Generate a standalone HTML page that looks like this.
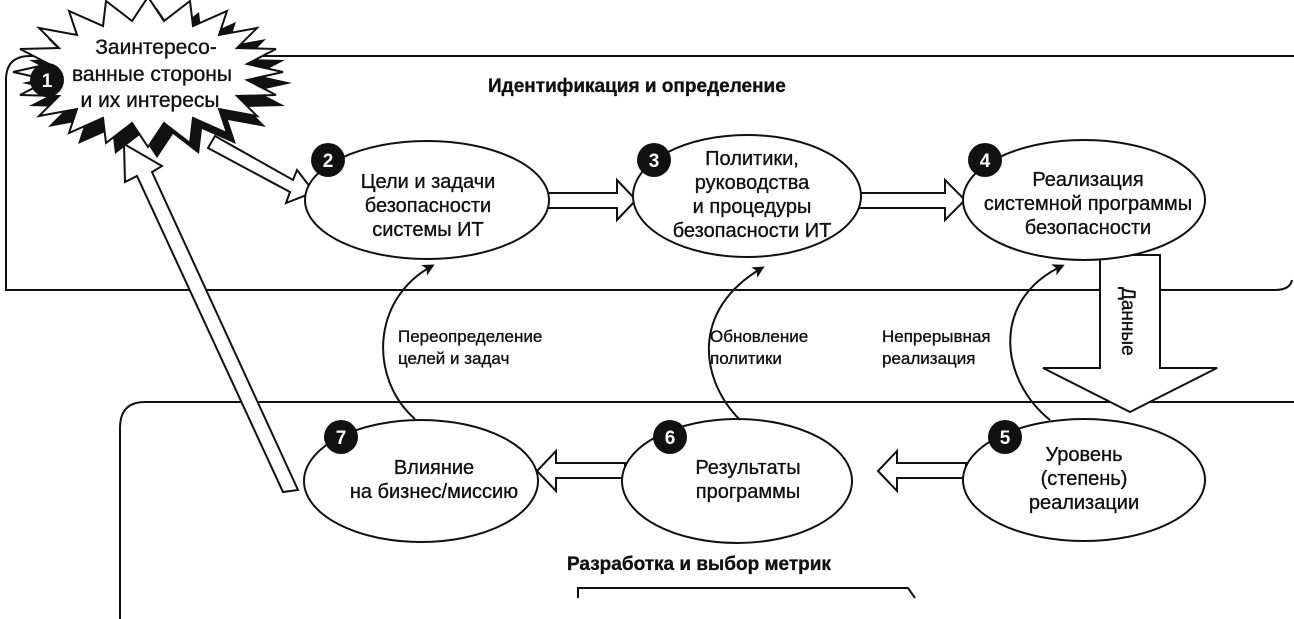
<!DOCTYPE html>
<html><head><meta charset="utf-8"><style>
html,body{margin:0;padding:0;background:#fff;}
svg{display:block;}
text{font-family:"Liberation Sans","DejaVu Sans",sans-serif;fill:#111;stroke:#111;stroke-width:0.35;}
</style></head><body>
<svg width="1294" height="619" viewBox="0 0 1294 619" xmlns="http://www.w3.org/2000/svg">
<defs>
<marker id="ah" markerWidth="12" markerHeight="12" refX="9" refY="6" orient="auto" markerUnits="userSpaceOnUse" viewBox="0 0 12 12">
<path d="M0,0 L12,6 L0,12 L3,6 Z" fill="#111"/></marker>
</defs>
<g fill="none" stroke="#111" stroke-width="2">
<path d="M1300,56 L30,56 Q6,56 6,80 L6,290 L1275,290 Q1290,290 1292,280"/>
<path d="M1300,402 L145,402 Q120,402 120,428 L120,619"/>
</g>
<g transform="translate(9,11)">
<polygon fill="#111" points="283,72 247,80 276,95 237,96 257,116 219,109 227,133 193,118 190,143 164,123 148,147 132,123 106,143 103,118 69,133 77,109 39,116 59,96 20,95 49,80 13,72 49,64 20,49 59,48 39,28 77,35 69,11 103,26 106,1 132,21 148,-3 164,21 190,1 193,26 227,11 219,35 257,28 237,48 276,49 247,64"/>
</g>
<polygon fill="#fff" stroke="#111" stroke-width="2" points="283,72 247,80 276,95 237,96 257,116 219,109 227,133 193,118 190,143 164,123 148,147 132,123 106,143 103,118 69,133 77,109 39,116 59,96 20,95 49,80 13,72 49,64 20,49 59,48 39,28 77,35 69,11 103,26 106,1 132,21 148,-3 164,21 190,1 193,26 227,11 219,35 257,28 237,48 276,49 247,64"/>
<g font-size="21" text-anchor="middle">
<text x="156" y="54">Заинтересо-</text>
<text x="152" y="81">ванные стороны</text>
<text x="150" y="107">и их интересы</text>
</g>
<g fill="#fff" stroke="#111" stroke-width="2">
<polygon points="215,136 293,180 297,170 314,192 286,203 290,192 208,148"/>
<polygon points="298,490 152,172 162,166 124,144 125,182 137,176 283,492"/>
<polygon points="545,193 617,193 617,180 636,200 617,220 617,208 545,208"/>
<polygon points="857,193 945,193 945,180 965,200 945,220 945,208 857,208"/>
<polygon points="966,463 897,463 897,451 878,471 897,491 897,478 966,478"/>
<polygon points="625,463 556,463 556,451 537,471 556,491 556,478 625,478"/>
<polygon points="1100,255 1160,255 1160,368 1217,368 1130,412 1043,368 1100,368"/>
</g>
<text x="0" y="0" font-size="19" transform="translate(1122,287) rotate(90)">Данные</text>
<g fill="#fff" stroke="#111" stroke-width="2">
<ellipse cx="427" cy="200" rx="122" ry="59"/>
<ellipse cx="747" cy="196" rx="114" ry="61"/>
<ellipse cx="1084" cy="200" rx="121" ry="60"/>
<ellipse cx="1084" cy="480" rx="121" ry="61"/>
<ellipse cx="737" cy="481" rx="115" ry="62"/>
<ellipse cx="421" cy="481" rx="117" ry="61"/>
</g>
<g fill="none" stroke="#111" stroke-width="2" marker-end="url(#ah)">
<path d="M415,419 C370,380 370,300 432,266"/>
<path d="M740,420 C700,380 690,310 762,268"/>
<path d="M1050,420 C1000,380 990,300 1062,266"/>
</g>
<g fill="#111">
<circle cx="47" cy="80" r="17"/><circle cx="328" cy="160" r="17"/><circle cx="654" cy="160" r="17"/>
<circle cx="985" cy="160" r="17"/><circle cx="1005" cy="437" r="17"/><circle cx="670" cy="437" r="17"/><circle cx="341" cy="437" r="17"/>
</g>
<g font-size="19" font-weight="bold" text-anchor="middle">
<text x="47" y="87" style="fill:#fff;stroke:none">1</text><text x="328" y="167" style="fill:#fff;stroke:none">2</text><text x="654" y="167" style="fill:#fff;stroke:none">3</text>
<text x="985" y="167" style="fill:#fff;stroke:none">4</text><text x="1005" y="444" style="fill:#fff;stroke:none">5</text><text x="670" y="444" style="fill:#fff;stroke:none">6</text><text x="341" y="444" style="fill:#fff;stroke:none">7</text>
</g>
<g font-size="20" text-anchor="middle">
<text x="428" y="188">Цели и задачи</text><text x="428" y="212">безопасности</text><text x="428" y="236">системы ИТ</text>
<text x="752" y="165">Политики,</text><text x="752" y="189">руководства</text><text x="752" y="213">и процедуры</text><text x="752" y="237">безопасности ИТ</text>
<text x="1088" y="186">Реализация</text><text x="1088" y="210">системной программы</text><text x="1088" y="234">безопасности</text>
<text x="1084" y="461">Уровень</text><text x="1084" y="485">(степень)</text><text x="1084" y="509">реализации</text>
<text x="748" y="474">Результаты</text><text x="748" y="498">программы</text>
<text x="434" y="474">Влияние</text><text x="434" y="498">на бизнес/миссию</text>
</g>
<g font-size="17">
<text x="398" y="342">Переопределение</text><text x="398" y="364">целей и задач</text>
<text x="710" y="342">Обновление</text><text x="710" y="364">политики</text>
<text x="882" y="342">Непрерывная</text><text x="882" y="364">реализация</text>
</g>
<g font-size="19" font-weight="bold">
<text x="488" y="92">Идентификация и определение</text>
<text x="567" y="570">Разработка и выбор метрик</text>
</g>
<path d="M578,598 L578,588 L908,588 L915,598" fill="none" stroke="#111" stroke-width="2"/>
</svg>
</body></html>
